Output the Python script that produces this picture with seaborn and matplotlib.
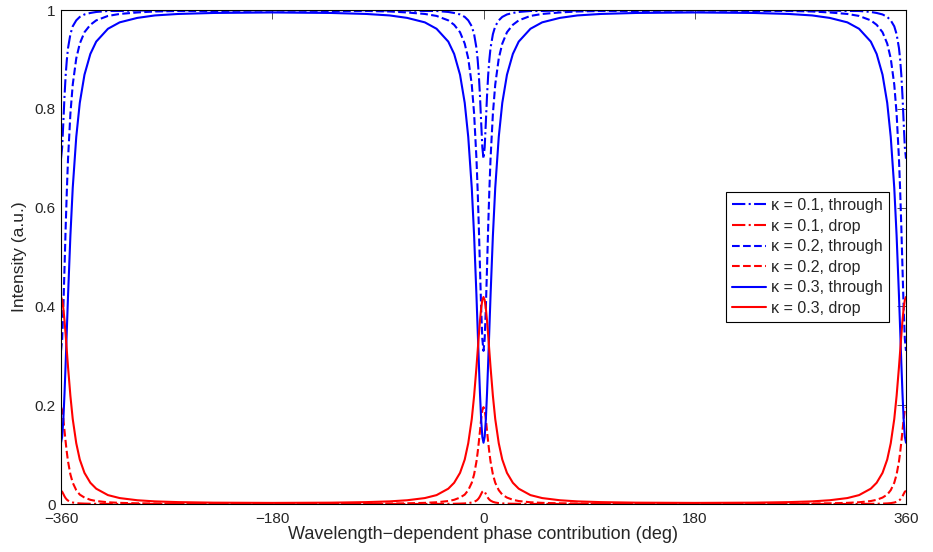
import numpy as np
import pandas as pd
import matplotlib
matplotlib.use("Agg")
import matplotlib.pyplot as plt
import seaborn as sns

# phase axis (deg), denser near the resonances at -360, 0, 360
phase = [
    -360, -359, -358, -357, -356, -355, -354, -352, -350, -347, -344, -340, -335, -330, -320, -310, -295, -280, -260, -230, -180,
    -130, -100, -80, -65, -50, -40, -30, -25, -20, -16, -13, -10, -8, -6, -5, -4, -3, -2, -1, 0,
    1, 2, 3, 4, 5, 6, 8, 10, 13, 16, 20, 25, 30, 40, 50, 65, 80, 100, 130, 180,
    230, 260, 280, 295, 310, 320, 330, 335, 340, 344, 347, 350, 352, 354, 355, 356, 357, 358, 359, 360,
]

# kappa = 0.1
through_01 = [
    0.699, 0.722, 0.773, 0.826, 0.869, 0.900, 0.923, 0.951, 0.967, 0.979, 0.986, 0.991, 0.994, 0.996, 0.998, 0.998, 0.999, 0.999, 0.9995, 0.9997, 0.9997,
    0.9997, 0.9995, 0.999, 0.999, 0.998, 0.998, 0.996, 0.994, 0.991, 0.986, 0.979, 0.967, 0.951, 0.923, 0.900, 0.869, 0.826, 0.773, 0.722, 0.699,
    0.722, 0.773, 0.826, 0.869, 0.900, 0.923, 0.951, 0.967, 0.979, 0.986, 0.991, 0.994, 0.996, 0.998, 0.998, 0.999, 0.999, 0.9995, 0.9997, 0.9997,
    0.9997, 0.9995, 0.999, 0.999, 0.998, 0.998, 0.996, 0.994, 0.991, 0.986, 0.979, 0.967, 0.951, 0.923, 0.900, 0.869, 0.826, 0.773, 0.722, 0.699,
]
drop_01 = [
    0.0268, 0.0248, 0.0203, 0.0155, 0.0117, 0.0089, 0.0069, 0.0044, 0.0030, 0.0018, 0.0012, 0.0008, 0.0005, 0.0004, 0.0002, 0.0001, 0.0001, 0.0001, 0.0, 0.0, 0.0,
    0.0, 0.0, 0.0001, 0.0001, 0.0001, 0.0002, 0.0004, 0.0005, 0.0008, 0.0012, 0.0018, 0.0030, 0.0044, 0.0069, 0.0089, 0.0117, 0.0155, 0.0203, 0.0248, 0.0268,
    0.0248, 0.0203, 0.0155, 0.0117, 0.0089, 0.0069, 0.0044, 0.0030, 0.0018, 0.0012, 0.0008, 0.0005, 0.0004, 0.0002, 0.0001, 0.0001, 0.0001, 0.0, 0.0, 0.0,
    0.0, 0.0, 0.0001, 0.0001, 0.0001, 0.0002, 0.0004, 0.0005, 0.0008, 0.0012, 0.0018, 0.0030, 0.0044, 0.0069, 0.0089, 0.0117, 0.0155, 0.0203, 0.0248, 0.0268,
]

# kappa = 0.2
through_02 = [
    0.310, 0.334, 0.397, 0.478, 0.562, 0.636, 0.699, 0.790, 0.849, 0.902, 0.932, 0.955, 0.970, 0.979, 0.988, 0.992, 0.995, 0.997, 0.998, 0.998, 0.999,
    0.998, 0.998, 0.997, 0.995, 0.992, 0.988, 0.979, 0.970, 0.955, 0.932, 0.902, 0.849, 0.790, 0.699, 0.636, 0.562, 0.478, 0.397, 0.334, 0.310,
    0.334, 0.397, 0.478, 0.562, 0.636, 0.699, 0.790, 0.849, 0.902, 0.932, 0.955, 0.970, 0.979, 0.988, 0.992, 0.995, 0.997, 0.998, 0.998, 0.999,
    0.998, 0.998, 0.997, 0.995, 0.992, 0.988, 0.979, 0.970, 0.955, 0.932, 0.902, 0.849, 0.790, 0.699, 0.636, 0.562, 0.478, 0.397, 0.334, 0.310,
]
drop_02 = [
    0.196, 0.190, 0.172, 0.148, 0.125, 0.104, 0.086, 0.060, 0.043, 0.028, 0.019, 0.013, 0.0085, 0.0060, 0.0035, 0.0023, 0.0014, 0.0010, 0.0007, 0.0005, 0.0004,
    0.0005, 0.0007, 0.0010, 0.0014, 0.0023, 0.0035, 0.0060, 0.0085, 0.013, 0.019, 0.028, 0.043, 0.060, 0.086, 0.104, 0.125, 0.148, 0.172, 0.190, 0.196,
    0.190, 0.172, 0.148, 0.125, 0.104, 0.086, 0.060, 0.043, 0.028, 0.019, 0.013, 0.0085, 0.0060, 0.0035, 0.0023, 0.0014, 0.0010, 0.0007, 0.0005, 0.0004,
    0.0005, 0.0007, 0.0010, 0.0014, 0.0023, 0.0035, 0.0060, 0.0085, 0.013, 0.019, 0.028, 0.043, 0.060, 0.086, 0.104, 0.125, 0.148, 0.172, 0.190, 0.196,
]

# kappa = 0.3
through_03 = [
    0.124, 0.136, 0.171, 0.224, 0.287, 0.355, 0.422, 0.543, 0.640, 0.743, 0.812, 0.869, 0.911, 0.936, 0.962, 0.975, 0.984, 0.989, 0.992, 0.994, 0.995,
    0.994, 0.992, 0.989, 0.984, 0.975, 0.962, 0.936, 0.911, 0.869, 0.812, 0.743, 0.640, 0.543, 0.422, 0.355, 0.287, 0.224, 0.171, 0.136, 0.124,
    0.136, 0.171, 0.224, 0.287, 0.355, 0.422, 0.543, 0.640, 0.743, 0.812, 0.869, 0.911, 0.936, 0.962, 0.975, 0.984, 0.989, 0.992, 0.994, 0.995,
    0.994, 0.992, 0.989, 0.984, 0.975, 0.962, 0.936, 0.911, 0.869, 0.812, 0.743, 0.640, 0.543, 0.422, 0.355, 0.287, 0.224, 0.171, 0.136, 0.124,
]
drop_03 = [
    0.419, 0.413, 0.396, 0.371, 0.341, 0.309, 0.277, 0.219, 0.172, 0.123, 0.090, 0.063, 0.043, 0.031, 0.018, 0.012, 0.0076, 0.0053, 0.0038, 0.0027, 0.0022,
    0.0027, 0.0038, 0.0053, 0.0076, 0.012, 0.018, 0.031, 0.043, 0.063, 0.090, 0.123, 0.172, 0.219, 0.277, 0.309, 0.341, 0.371, 0.396, 0.413, 0.419,
    0.413, 0.396, 0.371, 0.341, 0.309, 0.277, 0.219, 0.172, 0.123, 0.090, 0.063, 0.043, 0.031, 0.018, 0.012, 0.0076, 0.0053, 0.0038, 0.0027, 0.0022,
    0.0027, 0.0038, 0.0053, 0.0076, 0.012, 0.018, 0.031, 0.043, 0.063, 0.090, 0.123, 0.172, 0.219, 0.277, 0.309, 0.341, 0.371, 0.396, 0.413, 0.419,
]

x_ticks = [-360, -180, 0, 180, 360]
x_tick_labels = ['\u2212360', '\u2212180', '0', '180', '360']
y_ticks = [0, 0.2, 0.4, 0.6, 0.8, 1]
y_tick_labels = ['0', '0.2', '0.4', '0.6', '0.8', '1']

sns.set_style('white')
plt.rcParams['font.family'] = ['Liberation Sans', 'DejaVu Sans']
plt.rcParams['xtick.direction'] = 'in'
plt.rcParams['ytick.direction'] = 'in'
plt.rcParams['xtick.top'] = True
plt.rcParams['ytick.right'] = True

series = [
    ('\u03ba = 0.1, through', through_01, 'blue', '-.'),
    ('\u03ba = 0.1, drop', drop_01, 'red', '-.'),
    ('\u03ba = 0.2, through', through_02, 'blue', '--'),
    ('\u03ba = 0.2, drop', drop_02, 'red', '--'),
    ('\u03ba = 0.3, through', through_03, 'blue', '-'),
    ('\u03ba = 0.3, drop', drop_03, 'red', '-'),
]

fig = plt.figure(figsize=(9.33, 5.52), dpi=100)
# axes box: x 61..906 px, y 10..504 px
ax = fig.add_axes([61 / 933, 48 / 552, 845 / 933, 494 / 552])

for label, values, color, ls in series:
    df = pd.DataFrame({'phase': phase, 'intensity': values})
    sns.lineplot(data=df, x='phase', y='intensity', ax=ax, color=color,
                 linestyle=ls, linewidth=1.5, label=label, estimator=None)

ax.set_xlim(-360, 360)
ax.set_ylim(0, 1)
ax.set_xticks(x_ticks)
ax.set_xticklabels(x_tick_labels, fontsize=11)
ax.set_yticks(y_ticks)
ax.set_yticklabels(y_tick_labels, fontsize=11)
ax.tick_params(axis='both', length=6.5, width=0.6, color='#333333')
ax.tick_params(axis='x', pad=5.5)
ax.tick_params(axis='y', pad=4)
for sp in ax.spines.values():
    sp.set_color('black')
    sp.set_linewidth(0.8)

ax.set_xlabel('Wavelength\u2212dependent phase contribution (deg)', fontsize=13, labelpad=0)
ax.set_ylabel('Intensity (a.u.)', fontsize=12.5, labelpad=5)

leg = ax.legend(loc='center right', bbox_to_anchor=(0.980, 0.50), fontsize=11.5,
                frameon=True, fancybox=False, framealpha=1, edgecolor='black',
                handlelength=2.1, labelspacing=0.35, borderpad=0.4, handletextpad=0.33,
                borderaxespad=0)
leg.get_frame().set_linewidth(0.8)

plt.savefig('out.png', dpi=100)
